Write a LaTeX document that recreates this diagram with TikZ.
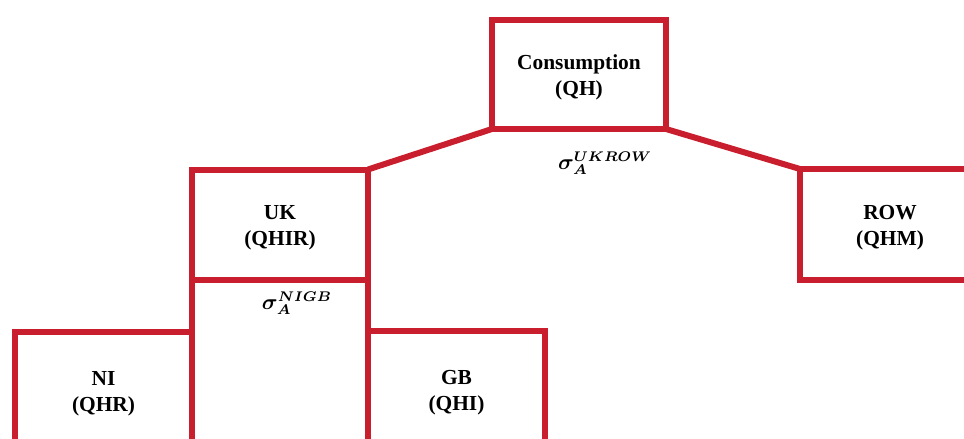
\documentclass[tikz,border=0pt]{standalone}
\usepackage{amsmath}
\usepackage{bm}
\usepackage{fontspec}
\setmainfont{Liberation Serif}
\definecolor{boxred}{RGB}{200,30,45}
\begin{document}
\begin{tikzpicture}[
   x=0.5pt,y=-0.5pt,
   font=\fontsize{10.7}{13}\selectfont\bfseries,
   level/.style={draw=boxred,line width=3pt,rectangle,outer sep=0pt,align=center,inner sep=0pt,text height=24pt,text depth=3pt},
   link/.style={draw=boxred,line width=3pt},
   elast/.style={font=\fontsize{10.5}{12}\selectfont}]
\useasboundingbox (0,0) rectangle (964,439);
\clip (0,0) rectangle (964,439);
\node[level,minimum width=174*0.5pt,minimum height=109*0.5pt] (QH) at (579,74.5) {Consumption\\(QH)};
\node[level,minimum width=176*0.5pt,minimum height=110*0.5pt] (QHIR) at (280,224.5) {UK\\(QHIR)};
\node[level,minimum width=180*0.5pt,minimum height=111*0.5pt] (QHM) at (890,224.5) {ROW\\(QHM)};
\node[level,minimum width=176*0.5pt,minimum height=180*0.5pt,anchor=north] (NIGB) at (QHIR.south) {};
\node[level,minimum width=177*0.5pt,minimum height=116*0.5pt,anchor=north east] (QHR) at (192,332) {NI\\(QHR)};
\node[level,minimum width=177*0.5pt,minimum height=116*0.5pt,anchor=north west] (QHI) at (368,331) {GB\\(QHI)};
\draw[link] (QH.south west) -- (QHIR.north east);
\draw[link] (QH.south east) -- (QHM.north west);
\node[elast] (sUKROW) at (605,163) {$\bm{\sigma}_{\bm{A}}^{\bm{UKROW}}$};
\node[elast] (sNIGB) at (297,303) {$\bm{\sigma}_{\bm{A}}^{\bm{NIGB}}$};
\end{tikzpicture}
\end{document}
